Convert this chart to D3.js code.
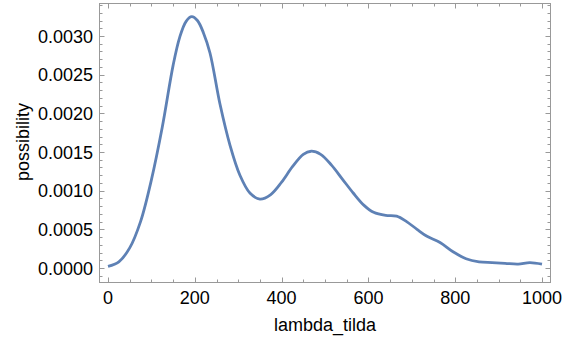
<!DOCTYPE html>
<html>
<head>
<meta charset="utf-8">
<script src="https://cdn.jsdelivr.net/npm/d3@7"></script>
<style>
  body { margin: 0; background: #fff; }
  text { font-family: "Liberation Sans", Arial, sans-serif; fill: #000; }
</style>
</head>
<body>
<div id="chart"></div>
<script>
// density curve
const lambdaX = [0, 25, 50, 75, 100, 125, 150, 165, 180, 193, 206, 220, 235, 258, 281, 304,
  327, 350, 375, 400, 425, 450, 468, 490, 515, 540, 565, 590, 612, 640, 665, 688, 712, 735,
  765, 795, 825, 855, 885, 915, 945, 972, 1000];
const possibility = [0.00002, 0.00008, 0.00026, 0.00060, 0.00114, 0.00182, 0.00262, 0.00298,
  0.00319, 0.00325, 0.00320, 0.00304, 0.00278, 0.00212, 0.00159, 0.00120, 0.00097, 0.00089,
  0.00095, 0.00111, 0.00131, 0.00147, 0.00151, 0.00147, 0.00133, 0.00115, 0.00097, 0.00081,
  0.00072, 0.00068, 0.00067, 0.00060, 0.00050, 0.00041, 0.00033, 0.00021, 0.00012, 0.00008,
  0.00007, 0.00006, 0.00005, 0.00007, 0.00005];
const xTicks = [0, 200, 400, 600, 800, 1000];
const yTicks = [0, 0.0005, 0.001, 0.0015, 0.002, 0.0025, 0.003];

const width = 564, height = 337;
const frame = { left: 99, right: 550, top: 3, bottom: 282 };

const svg = d3.select("#chart").append("svg")
  .attr("width", width)
  .attr("height", height);

// scales: 0 -> 108px, 1000 -> 542px ; 0 -> 268px, 0.003 -> 36px
const x = d3.scaleLinear().domain([0, 1000]).range([108, 542]);
const y = d3.scaleLinear().domain([0, 0.003]).range([268, 36]);

const frameColor = "#999";

// frame
svg.append("rect")
  .attr("x", frame.left + 0.5)
  .attr("y", frame.top + 0.5)
  .attr("width", frame.right - frame.left)
  .attr("height", frame.bottom - frame.top)
  .attr("fill", "none")
  .attr("stroke", frameColor)
  .attr("stroke-width", 1);

const ticksG = svg.append("g").attr("stroke", frameColor).attr("stroke-width", 1);

// x ticks (major + minor), bottom and top, pointing inward
const xMinor = d3.range(-50, 1051, 50).filter(v => x(v) > frame.left && x(v) < frame.right);
xMinor.forEach(v => {
  const major = v % 200 === 0;
  const len = major ? 5 : 3;
  const px = Math.round(x(v)) + 0.5;
  ticksG.append("line").attr("x1", px).attr("x2", px)
    .attr("y1", frame.bottom + 0.5).attr("y2", frame.bottom + 0.5 - len);
  ticksG.append("line").attr("x1", px).attr("x2", px)
    .attr("y1", frame.top + 0.5).attr("y2", frame.top + 0.5 + len);
});

// y ticks (major + minor), left and right
const yMinor = d3.range(-1, 35).map(i => i * 0.0001)
  .filter(v => y(v) > frame.top && y(v) < frame.bottom);
yMinor.forEach(v => {
  const major = Math.abs(Math.round(v * 10000) % 5) === 0;
  const len = major ? 5 : 3;
  const py = Math.round(y(v)) + 0.5;
  ticksG.append("line").attr("y1", py).attr("y2", py)
    .attr("x1", frame.left + 0.5).attr("x2", frame.left + 0.5 + len);
  ticksG.append("line").attr("y1", py).attr("y2", py)
    .attr("x1", frame.right + 0.5).attr("x2", frame.right + 0.5 - len);
});

// tick labels
svg.append("g").selectAll("text")
  .data(xTicks).join("text")
  .attr("x", d => x(d))
  .attr("y", 304)
  .attr("text-anchor", "middle")
  .attr("font-size", 18)
  .text(d => d);

svg.append("g").selectAll("text")
  .data(yTicks).join("text")
  .attr("x", 93)
  .attr("y", d => y(d) + 6.5)
  .attr("text-anchor", "end")
  .attr("font-size", 18)
  .text(d => d3.format(".4f")(d));

// axis titles
svg.append("text")
  .attr("x", 325)
  .attr("y", 331)
  .attr("text-anchor", "middle")
  .attr("font-size", 18)
  .text("lambda_tilda");

svg.append("text")
  .attr("transform", `translate(29,142) rotate(-90)`)
  .attr("text-anchor", "middle")
  .attr("font-size", 18)
  .text("possibility");

// curve
const line = d3.line()
  .x((d, i) => x(lambdaX[i]))
  .y(d => y(d))
  .curve(d3.curveCatmullRom.alpha(0.5));

svg.append("path")
  .datum(possibility)
  .attr("d", line)
  .attr("fill", "none")
  .attr("stroke", "#5E81B5")
  .attr("stroke-width", 2.8)
  .attr("stroke-linejoin", "round");
</script>
</body>
</html>
